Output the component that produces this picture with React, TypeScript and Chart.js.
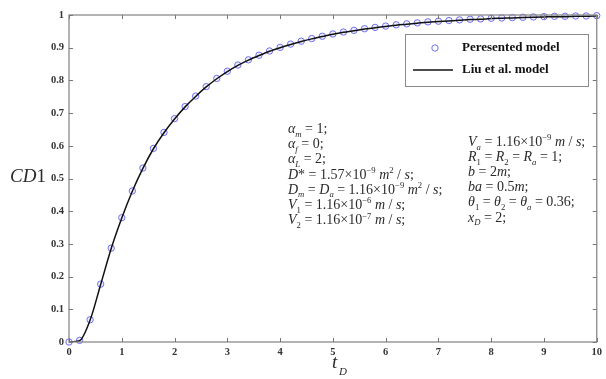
import React, { useEffect, useRef } from "react";
import { Chart, registerables } from "chart.js";

Chart.register(...registerables);

// Dimensionless time samples
const tD = [
  0, 0.2, 0.4, 0.6, 0.8, 1.0, 1.2, 1.4, 1.6, 1.8,
  2.0, 2.2, 2.4, 2.6, 2.8, 3.0, 3.2, 3.4, 3.6, 3.8,
  4.0, 4.2, 4.4, 4.6, 4.8, 5.0, 5.2, 5.4, 5.6, 5.8,
  6.0, 6.2, 6.4, 6.6, 6.8, 7.0, 7.2, 7.4, 7.6, 7.8,
  8.0, 8.2, 8.4, 8.6, 8.8, 9.0, 9.2, 9.4, 9.6, 9.8, 10.0,
];

// Presented model (circles)
const presentedModel = [
  0, 0.005, 0.068, 0.177, 0.287, 0.38, 0.462, 0.532, 0.592, 0.641,
  0.683, 0.72, 0.752, 0.781, 0.806, 0.828, 0.847, 0.863, 0.877, 0.89,
  0.901, 0.911, 0.92, 0.928, 0.935, 0.942, 0.948, 0.953, 0.958, 0.962,
  0.966, 0.97, 0.973, 0.976, 0.979, 0.981, 0.983, 0.985, 0.987, 0.988,
  0.99, 0.991, 0.992, 0.993, 0.994, 0.995, 0.996, 0.996, 0.997, 0.997, 0.998,
];

// Liu et al. model (solid line)
const liuModel = [
  0, 0.004, 0.067, 0.176, 0.286, 0.379, 0.461, 0.531, 0.591, 0.640,
  0.682, 0.719, 0.751, 0.780, 0.805, 0.827, 0.846, 0.862, 0.876, 0.889,
  0.900, 0.910, 0.919, 0.927, 0.934, 0.941, 0.947, 0.952, 0.957, 0.961,
  0.965, 0.969, 0.972, 0.975, 0.978, 0.980, 0.982, 0.984, 0.986, 0.987,
  0.989, 0.990, 0.991, 0.992, 0.993, 0.994, 0.995, 0.995, 0.996, 0.996, 0.997,
];

const seriesLabels = ["Peresented model", "Liu et al. model"];

// Parameter list; _{..} is a subscript and ^{..} a superscript
const paramsLeft = [
  "α_{m} = 1;",
  "α_{f} = 0;",
  "α_{L} = 2;",
  "D* = 1.57×10^{−9} m^{2} / s;",
  "D_{m} = D_{a} = 1.16×10^{−9} m^{2} / s;",
  "V_{1} = 1.16×10^{−6} m / s;",
  "V_{2} = 1.16×10^{−7} m / s;",
];
const paramsRight = [
  "V_{a} = 1.16×10^{−9} m / s;",
  "R_{1} = R_{2} = R_{a} = 1;",
  "b = 2m;",
  "ba = 0.5m;",
  "θ_{1} = θ_{2} = θ_{a} = 0.36;",
  "x_{D} = 2;",
];

const SERIF = '"Liberation Serif", "Times New Roman", serif';
const TEXT = "#2a2a2a";
const AXIS = "#8a8a8a";

type Seg = { s: string; mode: "n" | "sub" | "sup" };

function parseRich(text: string): Seg[] {
  const out: Seg[] = [];
  let i = 0;
  let buf = "";
  while (i < text.length) {
    const c = text[i];
    if ((c === "_" || c === "^") && text[i + 1] === "{") {
      if (buf) out.push({ s: buf, mode: "n" });
      buf = "";
      const end = text.indexOf("}", i);
      out.push({ s: text.slice(i + 2, end), mode: c === "_" ? "sub" : "sup" });
      i = end + 1;
    } else {
      buf += c;
      i++;
    }
  }
  if (buf) out.push({ s: buf, mode: "n" });
  return out;
}

function drawRich(ctx: CanvasRenderingContext2D, text: string, x: number, y: number, size: number) {
  let cx = x;
  ctx.textBaseline = "alphabetic";
  ctx.textAlign = "left";
  for (const seg of parseRich(text)) {
    const fs = seg.mode === "n" ? size : size * 0.62;
    const dy = seg.mode === "sub" ? size * 0.25 : seg.mode === "sup" ? -size * 0.4 : 0;
    for (const ch of seg.s) {
      const letter = /[A-Za-zα-ωθ]/.test(ch);
      ctx.font = `${letter ? "italic " : ""}${fs}px ${SERIF}`;
      ctx.fillText(ch, cx, y + dy);
      cx += ctx.measureText(ch).width;
    }
  }
}

const framePlugin = {
  id: "frame",
  afterDraw(chart: any) {
    const { ctx, chartArea: a, scales } = chart;
    const xs = scales.x;
    const ys = scales.y;
    ctx.save();

    // axes box
    ctx.strokeStyle = AXIS;
    ctx.lineWidth = 1.3;
    ctx.strokeRect(a.left, a.top, a.right - a.left, a.bottom - a.top);

    // inward ticks on all four sides
    const tl = 4;
    ctx.lineWidth = 1;
    ctx.strokeStyle = "#777777";
    ctx.beginPath();
    for (const t of xs.ticks) {
      const px = Math.round(xs.getPixelForValue(t.value)) + 0.5;
      ctx.moveTo(px, a.bottom);
      ctx.lineTo(px, a.bottom - tl);
      ctx.moveTo(px, a.top);
      ctx.lineTo(px, a.top + tl);
    }
    for (const t of ys.ticks) {
      const py = Math.round(ys.getPixelForValue(t.value)) + 0.5;
      ctx.moveTo(a.left, py);
      ctx.lineTo(a.left + tl, py);
      ctx.moveTo(a.right, py);
      ctx.lineTo(a.right - tl, py);
    }
    ctx.stroke();

    // axis titles
    ctx.fillStyle = TEXT;
    ctx.textBaseline = "alphabetic";
    ctx.font = `italic 19px ${SERIF}`;
    ctx.fillText("CD", 10, 182);
    const w = ctx.measureText("CD").width;
    ctx.font = `19px ${SERIF}`;
    ctx.fillText("1", 10 + w, 182);

    ctx.font = `italic 19px ${SERIF}`;
    ctx.fillText("t", 332, 368);
    ctx.font = `italic 11px ${SERIF}`;
    ctx.fillText("D", 339, 375);

    // parameter annotations
    paramsLeft.forEach((line, i) => drawRich(ctx, line, 288, 133 + i * 15.2, 14));
    paramsRight.forEach((line, i) => drawRich(ctx, line, 468, 146 + i * 15.1, 14));

    // legend
    const lx = 405, ly = 34, lw = 183, lh = 52;
    ctx.fillStyle = "#ffffff";
    ctx.fillRect(lx, ly, lw, lh);
    ctx.strokeStyle = AXIS;
    ctx.lineWidth = 1;
    ctx.strokeRect(lx + 0.5, ly + 0.5, lw, lh);

    ctx.beginPath();
    ctx.arc(435, 48, 3.2, 0, Math.PI * 2);
    ctx.strokeStyle = "rgba(90, 90, 235, 0.85)";
    ctx.stroke();

    ctx.beginPath();
    ctx.moveTo(413, 70);
    ctx.lineTo(453, 70);
    ctx.strokeStyle = "#111111";
    ctx.lineWidth = 1.5;
    ctx.stroke();

    ctx.fillStyle = "#111111";
    ctx.font = `bold 13px ${SERIF}`;
    ctx.textBaseline = "middle";
    ctx.fillText(seriesLabels[0], 462, 48);
    ctx.fillText(seriesLabels[1], 462, 70);

    ctx.restore();
  },
};

export default function App() {
  const ref = useRef<HTMLCanvasElement | null>(null);

  useEffect(() => {
    document.body.style.margin = "0";
    const canvas = ref.current;
    if (!canvas) return;

    const chart = new Chart(canvas, {
      type: "scatter",
      data: {
        datasets: [
          {
            type: "line",
            label: seriesLabels[1],
            data: tD.map((x, i) => ({ x, y: liuModel[i] })),
            borderColor: "#111111",
            borderWidth: 1.5,
            pointRadius: 0,
            cubicInterpolationMode: "monotone",
            fill: false,
            order: 1,
          } as any,
          {
            type: "scatter",
            label: seriesLabels[0],
            data: tD.map((x, i) => ({ x, y: presentedModel[i] })),
            borderColor: "rgba(90, 90, 235, 0.85)",
            backgroundColor: "rgba(150, 150, 255, 0.15)",
            borderWidth: 1,
            pointRadius: 3.2,
            clip: false,
            order: 2,
          } as any,
        ],
      },
      options: {
        responsive: false,
        animation: false,
        layout: { padding: { top: 15, right: 4, left: 0, bottom: 0 } },
        plugins: {
          legend: { display: false },
          tooltip: { enabled: false },
        },
        scales: {
          x: {
            type: "linear",
            min: 0,
            max: 10,
            ticks: {
              stepSize: 1,
              color: "#333333",
              font: { family: SERIF, size: 10.5, weight: "bold" },
              padding: 4,
              maxRotation: 0,
            },
            grid: { display: false, drawTicks: false },
            border: { display: false },
            afterFit: (s: any) => {
              s.height = 37;
            },
          },
          y: {
            type: "linear",
            min: 0,
            max: 1,
            ticks: {
              stepSize: 0.1,
              color: "#333333",
              font: { family: SERIF, size: 10.5, weight: "bold" },
              padding: 5,
              callback: (v: any) => String(Number(Number(v).toFixed(1))),
            },
            grid: { display: false, drawTicks: false },
            border: { display: false },
            afterFit: (s: any) => {
              s.width = 69;
            },
          },
        },
      },
      plugins: [framePlugin],
    });

    return () => chart.destroy();
  }, []);

  return (
    <div style={{ width: 606, height: 379, background: "#ffffff" }}>
      <canvas ref={ref} width={606} height={379} />
    </div>
  );
}
